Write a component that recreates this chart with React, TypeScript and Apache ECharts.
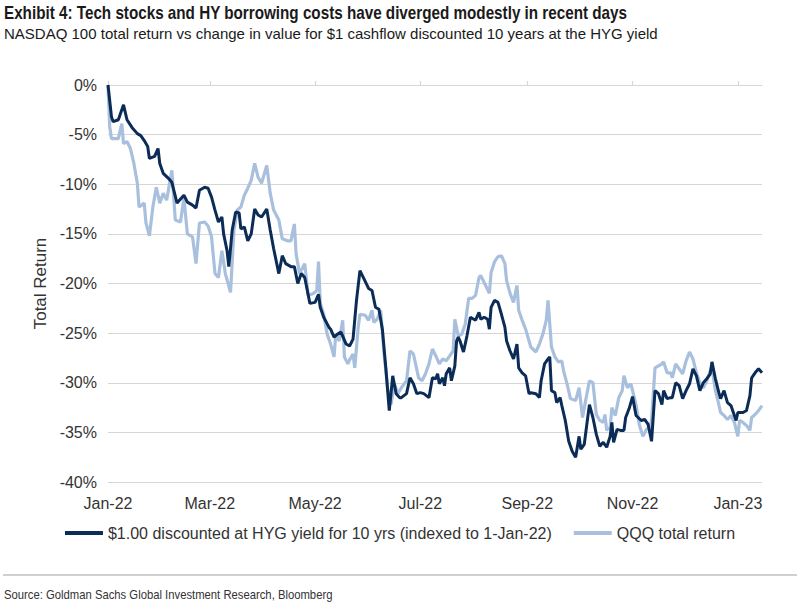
import React, { useEffect, useRef } from "react";
import * as echarts from "echarts";

// x positions are days since 1-Jan-2022
const monthDays = [0, 59, 120, 181, 243, 304, 365];
const monthLabels = ["Jan-22", "Mar-22", "May-22", "Jul-22", "Sep-22", "Nov-22", "Jan-23"];

const titleText = "Exhibit 4: Tech stocks and HY borrowing costs have diverged modestly in recent days";
const subtitleText = "NASDAQ 100 total return vs change in value for $1 cashflow discounted 10 years at the HYG yield";
const sourceText = "Source: Goldman Sachs Global Investment Research, Bloomberg";

const hygName = "$1.00 discounted at HYG yield for 10 yrs (indexed to 1-Jan-22)";
const qqqName = "QQQ total return";

const hygDays = [
  0, 2, 3, 6, 9, 11, 14, 17, 19, 21, 23, 24, 27, 29, 30, 32, 35, 37, 40, 44, 46, 49, 51, 53, 56, 58, 60,
  62, 64, 66, 67, 69, 70, 72, 74, 76, 77, 79, 81, 83, 85, 87, 89, 92, 94, 96, 99, 101, 103, 106, 108, 110,
  112, 114, 117, 120, 122, 123, 125, 128, 129, 131, 133, 135, 138, 140, 142, 144, 146, 148, 151, 153, 155,
  157, 159, 161, 163, 164, 165, 167, 169, 170, 173, 175, 177, 179, 181, 183, 186, 188, 190, 191, 192, 194,
  195, 196, 198, 199, 201, 202, 203, 204, 206, 208, 210, 212, 213, 215, 216, 218, 220, 221, 222, 224, 226,
  228, 230, 231, 233, 235, 237, 238, 240, 242, 244, 245, 248, 250, 251, 253, 255, 256, 257, 259, 260, 262,
  263, 265, 267, 269, 271, 273, 274, 276, 278, 279, 281, 283, 285, 287, 289, 291, 292, 293, 295, 297, 299,
  300, 302, 304, 306, 309, 311, 313, 315, 317, 319, 321, 322, 324, 326, 327, 329, 331, 333, 335, 337, 339,
  341, 343, 345, 347, 349, 350, 352, 354, 355, 357, 359, 361, 364, 365, 368, 370, 372, 373, 375, 377, 379,
];
const hygValues = [
  0, -3.2, -3.7, -3.5, -2.0, -3.5, -4.3, -4.9, -5.1, -5.6, -6.2, -7.4, -7.2, -6.4, -7.9, -8.9, -9.4, -9.8,
  -11.9, -11.1, -11.8, -12.1, -12.4, -10.6, -10.3, -10.4, -11.3,
  -12.6, -13.8, -13.3, -15.0, -16.7, -18.3, -14.6, -12.8, -12.9, -14.5, -14.3, -15.7, -15.0, -12.5, -13.1,
  -13.3, -12.5, -14.6, -16.5, -19.0, -17.2, -18.0, -18.3, -18.3, -20.0,
  -19.0, -19.4, -22.0, -21.9, -21.1, -22.4, -23.4, -24.4, -24.6, -25.4, -25.1, -24.9, -26.1, -26.3, -25.6,
  -21.7, -18.7, -19.4, -20.5, -20.7, -22.4,
  -22.6, -24.6, -28.5, -32.8, -31.1, -29.3, -31.1, -31.5, -31.5, -31.1, -29.5, -30.1, -31.1, -31.0, -31.1,
  -31.5, -29.5, -29.6, -29.1, -30.1, -29.5,
  -30.3, -29.1, -28.5, -29.8, -28.3, -25.8, -25.4, -25.8, -26.9, -25.3, -23.4, -23.6, -23.7, -22.9, -23.6,
  -23.4, -23.6, -24.6, -22.4, -21.7, -21.9,
  -23.1, -24.4, -25.8, -26.8, -27.6, -26.1, -28.5, -29.0, -29.3, -31.1, -31.0, -31.1, -31.5, -29.8, -28.1,
  -27.6, -27.4, -30.8, -31.0, -32.0, -31.5,
  -32.3, -33.8, -35.9, -36.9, -37.5, -35.4, -36.7, -36.2, -33.5, -32.2, -33.5, -35.2, -36.4, -36.0, -36.5,
  -35.4, -34.0, -36.0, -34.7, -34.8, -34.8,
  -33.5, -32.6, -31.4, -33.3, -33.8, -33.7, -34.2, -35.9, -30.8, -31.1, -32.2, -30.8, -31.6, -31.5, -31.5,
  -30.0, -30.3, -31.6, -30.8, -30.1, -28.6,
  -29.3, -30.8, -30.0, -29.6, -29.1, -27.9, -29.6, -31.0, -31.6, -30.8, -32.0, -32.3, -33.8, -33.0, -33.0,
  -32.8, -31.3, -29.5, -29.0, -28.6, -29.0,
];

const qqqDays = [
  0, 1, 2, 6, 8, 9, 11, 13, 15, 17, 18, 21, 22, 24, 26, 28, 30, 32, 34, 37, 39, 42, 44, 46, 49, 51, 53,
  56, 58, 60, 62, 64, 66, 68, 71, 73, 75, 77, 79, 81, 83, 85, 87, 89, 92, 94, 96, 99, 101, 104, 106, 108,
  109, 111, 114, 116, 119, 121, 122, 123, 125, 127, 129, 131, 132, 134, 136, 137, 139, 140, 142, 143, 145,
  146, 149, 151, 153, 154, 156, 158, 160, 162, 164, 166, 168, 170, 173, 175, 177, 180, 182, 184, 186, 188,
  190, 192, 194, 196, 198, 200, 201, 203, 205, 207, 209, 211, 213, 215, 216, 218, 221, 222, 224, 226, 228,
  230, 231, 233, 235, 237, 238, 240, 242, 244, 245, 248, 250, 252, 254, 255, 257, 259, 261, 263, 264, 266,
  268, 271, 273, 275, 277, 279, 281, 283, 285, 287, 288, 289, 291, 292, 294, 296, 298, 299, 301, 303, 305,
  306, 308, 310, 312, 314, 315, 317, 319, 321, 322, 324, 326, 327, 329, 331, 333, 335, 337, 339, 341, 343,
  345, 347, 349, 350, 352, 354, 355, 357, 359, 361, 363, 365, 366, 368, 370, 372, 373, 375, 377, 379,
];
const qqqValues = [
  0, -4.2, -5.4, -5.4, -3.9, -5.9, -5.7, -6.4, -7.9, -9.9, -12.3, -11.9, -13.9, -15.2, -12.3, -10.3, -11.9,
  -10.9, -11.6, -8.6, -13.6, -13.8, -11.4, -15.0, -15.3, -18.0, -13.9,
  -13.8, -14.2, -15.3, -19.0, -19.4, -16.7, -19.0, -20.9, -14.6, -12.6, -12.3, -11.1, -10.4, -9.6, -7.9,
  -9.3, -9.9, -8.1, -10.9, -12.6, -13.6, -15.5, -15.7, -15.7, -14.0,
  -17.0, -19.0, -18.0, -21.2, -21.0, -20.7, -17.8, -22.0, -23.1, -25.1, -26.1, -27.4, -25.1, -25.8, -23.7,
  -27.4, -28.1, -27.7, -27.1, -28.5, -24.4,
  -23.1, -23.2, -23.7, -22.7, -23.9, -23.6, -22.7, -27.1, -30.5, -32.2, -30.1, -31.1, -30.5, -29.8, -26.8,
  -27.1, -29.5, -29.8, -29.1, -28.1, -26.6,
  -27.3, -28.1, -27.6, -27.8, -27.3, -26.8, -23.6, -25.3, -25.1, -24.1, -21.5, -21.5, -21.2, -19.4, -19.2,
  -19.9, -21.0, -18.9, -17.8, -17.3, -17.2,
  -18.0, -19.7, -21.0, -21.9, -20.2, -22.7, -23.7, -24.6, -25.8, -26.4, -26.9, -26.1, -25.1, -23.7, -21.7,
  -26.4, -27.4, -27.9, -27.8, -28.8, -30.1,
  -31.6, -31.8, -30.5, -33.5, -31.6, -29.8, -30.0, -33.2, -33.8, -34.0, -33.2, -34.8, -34.5, -32.5, -33.3,
  -31.5, -30.8, -29.3, -30.5, -30.1, -31.5,
  -32.2, -34.3, -35.4, -34.7, -34.5, -33.8, -28.5, -28.3, -28.1, -27.9, -29.0, -29.0, -29.5, -28.1, -28.6,
  -29.1, -27.8, -26.9, -27.6, -29.0, -30.0,
  -30.5, -29.8, -28.8, -28.5, -30.8, -32.2, -33.0, -33.3, -33.7, -33.3, -34.0, -35.4, -33.8, -34.0, -34.3,
  -34.8, -33.5, -33.2, -32.8, -32.3,
];

const DARK = "#0c2c58";
const LIGHT = "#a8c0dd";
const SANS = "'Liberation Sans', Arial, sans-serif";

// horizontal squeeze so a regular font mimics the narrow face of the reference
function squeeze(text: string, font: string, targetWidth: number): number {
  const ctx = document.createElement("canvas").getContext("2d");
  if (!ctx) return 0.8;
  ctx.font = font;
  const w = ctx.measureText(text).width;
  return w > 0 ? Math.min(1, targetWidth / w) : 0.8;
}

export default function App() {
  const ref = useRef<HTMLDivElement>(null);

  useEffect(() => {
    if (!ref.current) return;
    const chart = echarts.init(ref.current, undefined, { renderer: "svg" });
    const maxDay = hygDays[hygDays.length - 1];
    const labelFor = (v: number) => {
      const i = monthDays.indexOf(Math.round(v));
      return i >= 0 ? monthLabels[i] : "";
    };
    const titleFont = "bold 18px 'Liberation Sans'";
    const subFont = "15px 'Liberation Sans'";
    const srcFont = "13px 'Liberation Sans'";
    chart.setOption({
      animation: false,
      backgroundColor: "#ffffff",
      graphic: [
        {
          type: "text",
          x: 4,
          y: 4,
          scaleX: squeeze(titleText, titleFont, 624),
          style: { text: titleText, font: titleFont, fill: "#1a1a1a", verticalAlign: "top" },
        },
        {
          type: "text",
          x: 4,
          y: 26,
          scaleX: squeeze(subtitleText, subFont, 661),
          style: { text: subtitleText, font: subFont, fill: "#1a1a1a", verticalAlign: "top" },
        },
        {
          type: "text",
          x: 4,
          y: 588,
          scaleX: squeeze(sourceText, srcFont, 329),
          style: { text: sourceText, font: srcFont, fill: "#333333", verticalAlign: "top" },
        },
        {
          type: "line",
          shape: { x1: 3, y1: 575, x2: 797, y2: 575 },
          style: { stroke: "#a0a0a0", lineWidth: 1 },
        },
      ],
      legend: {
        top: 520,
        left: "center",
        icon: "rect",
        itemWidth: 38,
        itemHeight: 4,
        itemGap: 22,
        textStyle: { fontFamily: SANS, fontSize: 16, color: "#333333" },
        data: [hygName, qqqName],
      },
      grid: { left: 108, right: 38, top: 85, bottom: 127, containLabel: false },
      xAxis: [
        {
          type: "value",
          min: 0,
          max: maxDay,
          position: "bottom",
          axisLine: { show: false },
          axisTick: { show: false },
          splitLine: { show: false },
          axisLabel: {
            customValues: monthDays,
            formatter: labelFor,
            fontFamily: SANS,
            fontSize: 16,
            color: "#333333",
            margin: 13,
          },
        },
        {
          type: "value",
          min: 0,
          max: maxDay,
          position: "top",
          axisLine: { show: true, onZero: false, lineStyle: { color: "#d6d6d6", width: 1.2 } },
          axisTick: { show: true, customValues: monthDays, length: 4, lineStyle: { color: "#d6d6d6", width: 1.2 } },
          axisLabel: { show: false },
          splitLine: { show: false },
        },
      ],
      yAxis: {
        type: "value",
        min: -40,
        max: 0,
        interval: 5,
        name: "Total Return",
        nameLocation: "middle",
        nameGap: 55,
        nameTextStyle: { fontFamily: SANS, fontSize: 17, color: "#333333" },
        axisLine: { show: false },
        axisTick: { show: false },
        axisLabel: { formatter: "{value}%", fontFamily: SANS, fontSize: 16, color: "#333333", margin: 11 },
        splitLine: { lineStyle: { color: "#d6d6d6", width: 1.2 } },
      },
      series: [
        {
          name: qqqName,
          type: "line",
          xAxisIndex: 0,
          showSymbol: false,
          symbol: "none",
          color: LIGHT,
          lineStyle: { color: LIGHT, width: 3.2 },
          data: qqqDays.map((d, i) => [d, qqqValues[i]]),
          z: 2,
        },
        {
          name: hygName,
          type: "line",
          xAxisIndex: 0,
          showSymbol: false,
          symbol: "none",
          color: DARK,
          lineStyle: { color: DARK, width: 3 },
          data: hygDays.map((d, i) => [d, hygValues[i]]),
          z: 3,
        },
      ],
    });
    return () => chart.dispose();
  }, []);

  return (
    <div
      ref={ref}
      style={{ position: "fixed", left: 0, top: 0, width: 800, height: 609, background: "#fff" }}
    />
  );
}
